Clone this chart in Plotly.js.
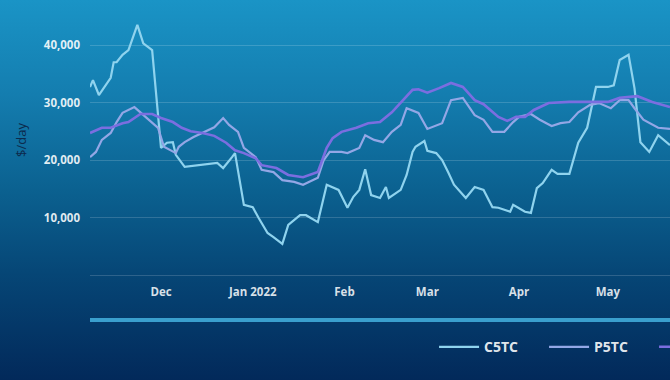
<!DOCTYPE html>
<html>
<head>
<meta charset="utf-8">
<script src="https://cdn.plot.ly/plotly-3.0.1.min.js"></script>
<style>
html, body { margin:0; padding:0; width:670px; height:380px; overflow:hidden;
  background: linear-gradient(to bottom, #1a94c6 0%, #147daf 25%, #0b6190 50%, #064676 72%, #02295a 100%); }
#chart { width:820px; height:380px; }
</style>
</head>
<body>
<div id="chart"></div>
<script>
// C5TC
const c5tcDates = ['2021-11-07','2021-11-08','2021-11-10','2021-11-14','2021-11-15','2021-11-16','2021-11-18','2021-11-20','2021-11-23','2021-11-25','2021-11-28','2021-11-30','2021-12-01','2021-12-03','2021-12-05','2021-12-06','2021-12-09','2021-12-20','2021-12-22','2021-12-25','2021-12-26','2021-12-29','2022-01-01','2022-01-03','2022-01-06','2022-01-08','2022-01-11','2022-01-13','2022-01-17','2022-01-19','2022-01-23','2022-01-26','2022-01-30','2022-02-02','2022-02-04','2022-02-06','2022-02-08','2022-02-10','2022-02-13','2022-02-15','2022-02-16','2022-02-20','2022-02-22','2022-02-24','2022-02-25','2022-02-28','2022-03-01','2022-03-04','2022-03-06','2022-03-08','2022-03-10','2022-03-14','2022-03-17','2022-03-20','2022-03-23','2022-03-25','2022-03-29','2022-03-30','2022-04-03','2022-04-05','2022-04-07','2022-04-09','2022-04-12','2022-04-14','2022-04-18','2022-04-21','2022-04-24','2022-04-27','2022-05-01','2022-05-03','2022-05-05','2022-05-08','2022-05-10','2022-05-12','2022-05-15','2022-05-18','2022-05-22'];
const c5tcValues = [32700,33900,31300,34300,37000,37000,38300,39100,43500,40300,39100,27800,22100,23000,23100,20900,18800,19500,18600,20500,21200,12200,11800,9900,7300,6600,5400,8700,10400,10400,9200,15700,14800,11700,13600,14800,18400,13900,13400,15300,13400,14800,17400,21400,22300,23300,21600,21200,20000,17900,15700,13400,15300,14800,11800,11700,11000,12200,11000,10800,15100,16000,18300,17600,17600,23000,25600,32700,32700,33000,37400,38300,32500,23100,21400,24300,22600];

// P5TC
const p5tcDates = ['2021-11-07','2021-11-09','2021-11-11','2021-11-14','2021-11-16','2021-11-18','2021-11-22','2021-11-25','2021-11-27','2021-11-30','2021-12-02','2021-12-06','2021-12-07','2021-12-09','2021-12-12','2021-12-16','2021-12-19','2021-12-22','2021-12-24','2021-12-27','2021-12-29','2022-01-02','2022-01-04','2022-01-08','2022-01-11','2022-01-15','2022-01-18','2022-01-23','2022-01-25','2022-01-27','2022-01-31','2022-02-02','2022-02-06','2022-02-08','2022-02-11','2022-02-14','2022-02-17','2022-02-20','2022-02-22','2022-02-26','2022-03-01','2022-03-06','2022-03-09','2022-03-13','2022-03-17','2022-03-20','2022-03-23','2022-03-27','2022-03-30','2022-04-01','2022-04-05','2022-04-08','2022-04-12','2022-04-15','2022-04-18','2022-04-21','2022-04-25','2022-04-28','2022-05-02','2022-05-05','2022-05-08','2022-05-10','2022-05-13','2022-05-18','2022-05-22'];
const p5tcValues = [20500,21400,23500,24700,26600,28200,29200,27800,27000,25600,22300,21200,22300,23100,24000,24900,25700,27300,26100,24900,22100,20500,18300,17900,16500,16200,15700,16900,20000,21400,21400,21200,22100,24300,23500,23100,24900,26100,29000,28200,25400,26400,30400,30800,27800,27000,24900,24900,26600,27500,28000,27000,25900,26400,26600,28300,29600,29900,29000,30400,30400,29000,27000,25600,25400];

// S10TC (third series, name cut off in the reference)
const s10tcDates = ['2021-11-07','2021-11-11','2021-11-14','2021-11-18','2021-11-20','2021-11-24','2021-11-28','2021-12-01','2021-12-05','2021-12-08','2021-12-11','2021-12-15','2021-12-19','2021-12-23','2021-12-26','2021-12-29','2022-01-02','2022-01-04','2022-01-09','2022-01-13','2022-01-18','2022-01-23','2022-01-26','2022-01-28','2022-01-31','2022-02-05','2022-02-09','2022-02-13','2022-02-17','2022-02-20','2022-02-24','2022-02-26','2022-03-01','2022-03-05','2022-03-09','2022-03-13','2022-03-17','2022-03-20','2022-03-25','2022-03-28','2022-03-31','2022-04-03','2022-04-06','2022-04-11','2022-04-18','2022-04-25','2022-05-01','2022-05-05','2022-05-11','2022-05-16','2022-05-22'];
const s10tcValues = [24700,25600,25600,26400,26600,28000,28000,27300,26600,25600,25000,24700,24200,23000,21700,21200,20300,19100,18600,17400,17000,17900,22100,23800,24900,25600,26400,26600,28300,29900,32200,32300,31700,32500,33400,32700,30400,29700,27500,26800,27500,27500,28700,29900,30100,30100,30100,30800,31100,30100,29200];

const seriesNames = ['C5TC', 'P5TC', 'S10TC'];
const yTickVals = [10000, 20000, 30000, 40000];
const yTickText = ['10,000', '20,000', '30,000', '40,000'];
const xTickVals = ['2021-12-01', '2022-01-01', '2022-02-01', '2022-03-01', '2022-04-01', '2022-05-01'];
const xTickText = ['Dec', 'Jan 2022', 'Feb', 'Mar', 'Apr', 'May'];

const colors = ['#8fd3ee', '#93a7e6', '#7b6ee0'];
const widths = [2.2, 2.2, 2.6];
const dateSets = [c5tcDates, p5tcDates, s10tcDates];
const valueSets = [c5tcValues, p5tcValues, s10tcValues];

const traces = seriesNames.map((n, i) => ({
  type: 'scatter', mode: 'lines', name: n,
  x: dateSets[i], y: valueSets[i],
  line: { color: colors[i], width: widths[i] }
}));

const layout = {
  width: 820, height: 380,
  margin: { l: 90, r: 60, t: 0, b: 100 },
  paper_bgcolor: 'rgba(0,0,0,0)',
  plot_bgcolor: 'rgba(0,0,0,0)',
  font: { family: 'Open Sans, sans-serif', color: 'rgba(255,255,255,0.88)' },
  showlegend: true,
  legend: {
    orientation: 'h', x: 0.5135, xanchor: 'left', y: -0.24, yanchor: 'middle',
    font: { size: 14, color: 'rgba(255,255,255,0.9)', weight: 'bold' },
    itemwidth: 40, entrywidth: 55, entrywidthmode: 'pixels',
    bgcolor: 'rgba(0,0,0,0)', traceorder: 'normal'
  },
  xaxis: {
    type: 'date', range: ['2021-11-07', '2022-06-21 10:00'],
    showgrid: false, zeroline: false, showline: false,
    tickvals: xTickVals, ticktext: xTickText, ticks: '', ticklabelstandoff: 3,
    tickfont: { size: 11.5, color: 'rgba(255,255,255,0.85)', weight: 'bold' }
  },
  yaxis: {
    range: [-870, 47826],
    tickvals: yTickVals, ticktext: yTickText, ticks: '',
    showgrid: true, gridcolor: 'rgba(255,255,255,0.16)', gridwidth: 1,
    zeroline: true, zerolinecolor: 'rgba(255,255,255,0.16)', zerolinewidth: 1,
    showline: false, ticklabelstandoff: 9,
    tickfont: { size: 11.5, color: 'rgba(255,255,255,0.88)', weight: 'bold' },
    title: { text: '$/day', font: { size: 13, color: '#0c2a4c' }, standoff: 14 }
  },
  shapes: [{
    type: 'line', xref: 'paper', yref: 'paper', x0: 0, x1: 1, y0: -0.143, y1: -0.143,
    line: { color: '#3a9fce', width: 4 }
  }]
};

Plotly.newPlot('chart', traces, layout, { staticPlot: true, displayModeBar: false });
</script>
</body>
</html>
